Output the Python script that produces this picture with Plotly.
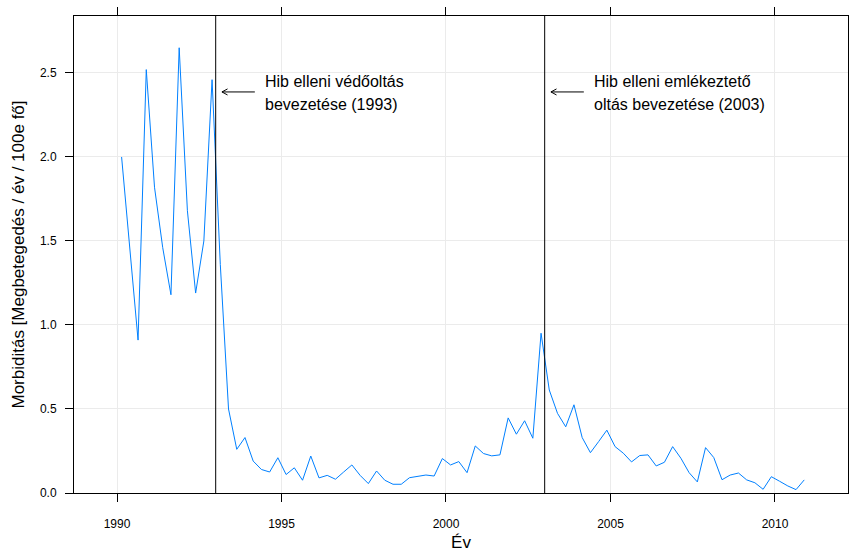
import plotly.graph_objects as go

# Quarterly morbidity, 1990 Q1 .. 2010 Q4 (plotted at quarter midpoints)
start_year = 1990
values = [
    2.00, 1.46, 0.91, 2.52,   # 1990
    1.82, 1.46, 1.18, 2.65,   # 1991
    1.68, 1.19, 1.50, 2.46,   # 1992
    1.36, 0.50, 0.26, 0.33,   # 1993
    0.19, 0.14, 0.125, 0.21,  # 1994
    0.11, 0.15, 0.076, 0.22,  # 1995
    0.09, 0.105, 0.082, 0.125,  # 1996
    0.167, 0.105, 0.056, 0.131,  # 1997
    0.076, 0.052, 0.052, 0.091,  # 1998
    0.097, 0.107, 0.101, 0.205,  # 1999
    0.167, 0.187, 0.121, 0.28,   # 2000
    0.235, 0.221, 0.227, 0.447,  # 2001
    0.35, 0.43, 0.326, 0.951,    # 2002
    0.613, 0.474, 0.394, 0.525,  # 2003
    0.33, 0.24, 0.306, 0.374,    # 2004
    0.276, 0.237, 0.185, 0.223,  # 2005
    0.227, 0.161, 0.183, 0.276,  # 2006
    0.207, 0.121, 0.066, 0.27,   # 2007
    0.211, 0.079, 0.107, 0.119,  # 2008
    0.078, 0.061, 0.022, 0.097,  # 2009
    0.07, 0.042, 0.02, 0.078,    # 2010
]
years = [start_year + 0.14 + 0.25 * i for i in range(len(values))]

event_years = [1993, 2003]
event_lines1 = ["Hib elleni védőoltás", "Hib elleni emlékeztető"]
event_lines2 = ["bevezetése (1993)", "oltás bevezetése (2003)"]

x_ticks = [1990, 1995, 2000, 2005, 2010]
y_ticks = [0.0, 0.5, 1.0, 1.5, 2.0, 2.5]
y_ticklabels = ["0.0", "0.5", "1.0", "1.5", "2.0", "2.5"]

x_title = "Év"
y_title = "Morbiditás [Megbetegedés / év / 100e fő]"

FONT = "Liberation Sans, Arial, sans-serif"
X_RANGE = [1988.693, 2012.22]
Y_RANGE = [0, 2.839]

fig = go.Figure()
fig.add_trace(go.Scatter(x=years, y=values, mode="lines",
                         line=dict(color="#0080ff", width=1),
                         showlegend=False, hoverinfo="x+y"))

shapes = []
annotations = []
arrow_y = 2.387
for i, ey in enumerate(event_years):
    shapes.append(dict(type="line", xref="x", yref="paper", x0=ey, x1=ey, y0=0, y1=1,
                       line=dict(color="black", width=1)))
    tip = ey + 0.19
    tail = ey + 1.19
    shapes.append(dict(type="line", xref="x", yref="y", x0=tip, x1=tail, y0=arrow_y, y1=arrow_y,
                       line=dict(color="black", width=1)))
    for s in (1, -1):
        shapes.append(dict(type="line", xref="x", yref="y", x0=tip, x1=tip + 0.17,
                           y0=arrow_y, y1=arrow_y + s * 0.018,
                           line=dict(color="black", width=1)))
    tx = ey + 1.44
    annotations.append(dict(x=tx, y=2.448, xref="x", yref="y", text=event_lines1[i],
                            showarrow=False, xanchor="left", yanchor="middle",
                            font=dict(family=FONT, size=16, color="black")))
    annotations.append(dict(x=tx, y=2.314, xref="x", yref="y", text=event_lines2[i],
                            showarrow=False, xanchor="left", yanchor="middle",
                            font=dict(family=FONT, size=16, color="black")))

fig.update_layout(
    width=849, height=552,
    margin=dict(l=74, r=1, t=16, b=59),
    paper_bgcolor="white", plot_bgcolor="white",
    font=dict(family=FONT, size=12, color="black"),
    shapes=shapes, annotations=annotations,
    xaxis=dict(range=X_RANGE, tickvals=x_ticks, ticks="outside", ticklen=8, tickcolor="black",
               showline=True, linecolor="black", linewidth=1, mirror="ticks",
               showgrid=True, gridcolor="#ebebeb", gridwidth=1, zeroline=False,
               tickfont=dict(size=12), ticklabelstandoff=12,
               title=dict(text=x_title, font=dict(size=17), standoff=6)),
    yaxis=dict(range=Y_RANGE, tickvals=y_ticks, ticktext=y_ticklabels, ticks="outside", ticklen=8,
               tickcolor="black", showline=True, linecolor="black", linewidth=1, mirror=True,
               showgrid=True, gridcolor="#ebebeb", gridwidth=1, zeroline=False,
               tickfont=dict(size=12), ticklabelstandoff=6,
               title=dict(text=y_title, font=dict(size=17), standoff=10)),
)

fig.write_html("out.html", config={"displayModeBar": False},
               post_script="document.body.style.margin='0';document.body.style.overflow='hidden';")
